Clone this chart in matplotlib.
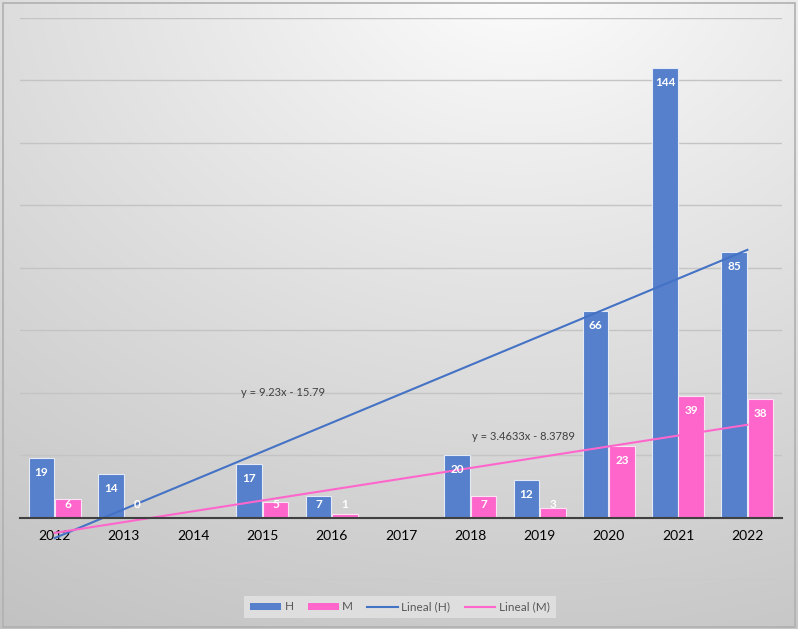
import numpy as np
import matplotlib
matplotlib.use("Agg")
import matplotlib.pyplot as plt
from matplotlib.patches import Patch, Rectangle
from matplotlib.lines import Line2D

plt.rcParams['font.family'] = ['Lato', 'DejaVu Sans']

years = ['2012', '2013', '2014', '2015', '2016', '2017', '2018', '2019', '2020', '2021', '2022']
h_vals = [19, 14, None, 17, 7, None, 20, 12, 66, 144, 85]
m_vals = [6, 0, None, 5, 1, None, 7, 3, 23, 39, 38]
trend_h = (9.23, -15.79)
trend_m = (3.4633, -8.3789)
eq_h = 'y = 9.23x - 15.79'
eq_m = 'y = 3.4633x - 8.3789'

BLUE = '#5680CC'
PINK = '#FF66CC'
LBLUE = '#4472C4'

fig = plt.figure(figsize=(7.98, 6.29), dpi=100)

# background gradient
bg = fig.add_axes([0, 0, 1, 1], zorder=-10)
yy, xx = np.mgrid[0:629, 0:798]
cx, cy = 520, -40
d = np.sqrt(((xx - cx) / 798.0) ** 2 + ((yy - cy) / 629.0) ** 2)
d = d / d.max()
vals = 1.0 - 0.24 * np.clip(d, 0, 1) ** 0.9
bg.imshow(np.dstack([vals, vals, vals]), aspect='auto', extent=[0, 1, 0, 1], origin='upper')
bg.set_xlim(0, 1); bg.set_ylim(0, 1)
bg.axis('off')
fig.patches.append(Rectangle((0.004, 0.003), 0.992, 0.992, transform=fig.transFigure,
                             fill=False, edgecolor='#b0b0b0', lw=1.2))

ax = fig.add_axes([20/798, 1 - 580/629, 762/798, 562/629])
ax.set_facecolor('none')
x = np.arange(len(years))
w = 0.37
for i, (hv, mv) in enumerate(zip(h_vals, m_vals)):
    if hv is not None:
        ax.bar(i - w/2 - 0.005, hv, width=w, color=BLUE, edgecolor='#e4eaf6', linewidth=0.8, zorder=3)
        ax.text(i - w/2 - 0.005, max(hv - 4.6, 4.3), str(hv), ha='center', va='center',
                color='white', fontsize=8.5, fontweight='bold', zorder=5)
    if mv is not None:
        ax.bar(i + w/2 + 0.005, mv, width=w, color=PINK, edgecolor='#fbe3f3', linewidth=0.8, zorder=3)
        ax.text(i + w/2 + 0.005, max(mv - 4.6, 4.3), str(mv), ha='center', va='center',
                color='white', fontsize=8.5, fontweight='bold', zorder=5)

xs = np.array([0, len(years) - 1])
ax.plot(xs, trend_h[0] * (xs + 1) + trend_h[1], color=LBLUE, lw=1.5, zorder=4)
ax.plot(xs, trend_m[0] * (xs + 1) + trend_m[1], color=PINK, lw=1.5, zorder=4)
ax.text(3.3, 40.2, eq_h, ha='center', va='center', fontsize=8, color='#404040', zorder=6)
ax.text(6.77, 25.9, eq_m, ha='center', va='center', fontsize=8, color='#404040', zorder=6)

ax.set_xlim(-0.5, len(years) - 0.5)
ax.set_ylim(-20, 160)
ax.set_yticks(np.arange(-20, 161, 20))
ax.yaxis.grid(True, color='#c4c4c4', lw=1.0, zorder=0)
ax.set_axisbelow(True)
ax.tick_params(axis='y', left=False, labelleft=False)
ax.set_xticks(x)
ax.set_xticklabels(years, color='#595959', fontsize=9)
ax.tick_params(axis='x', length=0, pad=9)
for s in ['top', 'right', 'left']:
    ax.spines[s].set_visible(False)
ax.spines['bottom'].set_position(('data', 0))
ax.spines['bottom'].set_color('#404040')
ax.spines['bottom'].set_linewidth(1.5)
ax.spines['bottom'].set_zorder(4)

handles = [Patch(facecolor=BLUE, edgecolor='none'), Patch(facecolor=PINK, edgecolor='none'),
           Line2D([], [], color=LBLUE, lw=1.5), Line2D([], [], color=PINK, lw=1.5)]
leg = fig.legend(handles, ['H', 'M', 'Lineal (H)', 'Lineal (M)'], ncol=4, loc='center',
                 bbox_to_anchor=(400/798, 1 - 607/629), frameon=True, fontsize=8.5,
                 handlelength=2.6, handleheight=0.6, columnspacing=1.2, handletextpad=0.3,
                 fancybox=False, borderpad=0.5)
leg.get_frame().set_facecolor('#e4e4e4')
leg.get_frame().set_edgecolor('none')
leg.get_frame().set_alpha(0.8)
for t in leg.get_texts():
    t.set_color('#595959')

fig.savefig('out.png', dpi=100)
